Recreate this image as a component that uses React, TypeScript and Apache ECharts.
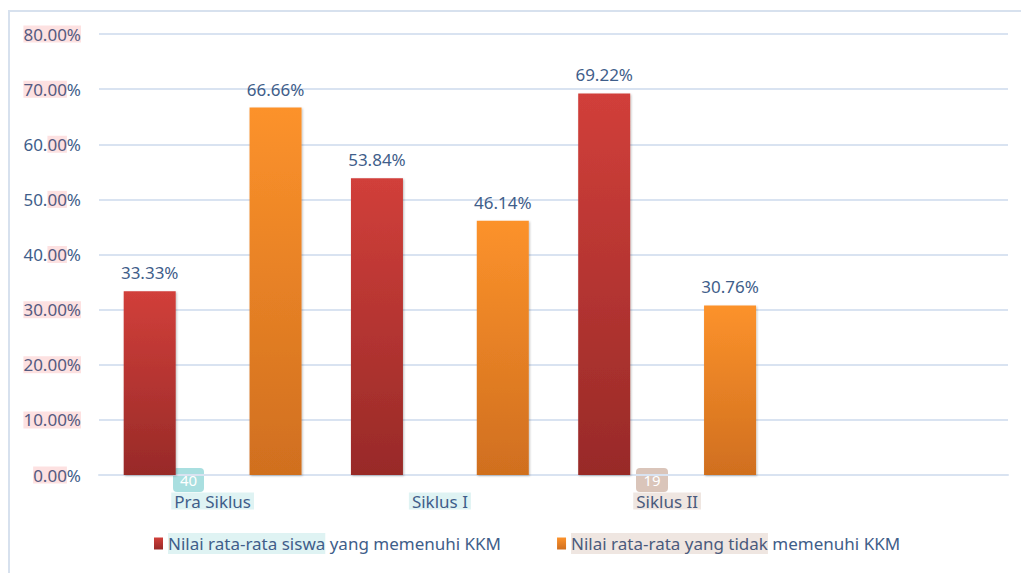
import React, { useEffect, useRef } from "react";
import * as echarts from "echarts";

const categories = ["Pra Siklus", "Siklus I", "Siklus II", ""];
const seriesNames = [
  "Nilai rata-rata siswa yang memenuhi KKM",
  "Nilai rata-rata yang tidak memenuhi KKM",
];
const memenuhi = [33.33, 53.84, 69.22, null];
const tidakMemenuhi = [66.66, 46.14, 30.76, null];
const yMin = 0;
const yMax = 80;
const yInterval = 10;

// highlight style of each y tick label (annotation highlights in the source)
const yHighlight: Record<number, string> = {
  80: "all",
  70: "num",
  60: "dec",
  50: "dec",
  40: "dec",
  30: "all",
  20: "all",
  10: "all",
  0: "num",
};

const FONT = "Noto Sans";
const TEXT = "#3f5e8a";
const FS = 17;

export default function App() {
  const ref = useRef<HTMLDivElement>(null);
  useEffect(() => {
    if (!ref.current) return;
    const chart = echarts.init(ref.current, undefined, { renderer: "svg" });
    const red = new echarts.graphic.LinearGradient(0, 0, 0, 1, [
      { offset: 0, color: "#d13f3a" },
      { offset: 1, color: "#982a28" },
    ]);
    const orange = new echarts.graphic.LinearGradient(0, 0, 0, 1, [
      { offset: 0, color: "#fc922b" },
      { offset: 1, color: "#d06f1f" },
    ]);
    const labelStyle = {
      show: true,
      position: "top",
      distance: 10,
      fontFamily: FONT,
      fontSize: FS,
      color: TEXT,
      formatter: (p: any) => Number(p.value).toFixed(2) + "%",
    };
    chart.setOption({
      animation: false,
      backgroundColor: "#ffffff",
      textStyle: { fontFamily: FONT },
      grid: { left: 99, right: 13, top: 34, bottom: 98, containLabel: false },
      xAxis: {
        type: "category",
        data: categories,
        axisLine: { show: true, lineStyle: { color: "#d9e3f1", width: 2 } },
        axisTick: { show: false },
        axisLabel: {
          margin: 18,
          interval: 0,
          formatter: (v: string) => {
            if (!v) return "";
            return (v === "Siklus II" ? "{b|" : "{a|") + v + "}";
          },
          rich: {
            a: {
              fontFamily: FONT,
              fontSize: FS,
              lineHeight: 16,
              color: TEXT,
              backgroundColor: "#dff3f3",
              padding: [0, 3, 0, 3],
            },
            b: {
              fontFamily: FONT,
              fontSize: FS,
              lineHeight: 16,
              color: "#4a5a7c",
              backgroundColor: "#efe6e1",
              padding: [0, 3, 0, 3],
            },
          },
        },
      },
      yAxis: {
        type: "value",
        min: yMin,
        max: yMax,
        interval: yInterval,
        axisLine: { show: false },
        axisTick: { show: false },
        splitLine: { lineStyle: { color: "#d9e3f1", width: 2 } },
        axisLabel: {
          margin: 18,
          formatter: (v: number) => {
            const s = v.toFixed(2);
            const kind = yHighlight[v];
            if (kind === "all") return "{h|" + s + "%}";
            if (kind === "num") return "{h|" + s + "}{n|%}";
            const [i, d] = s.split(".");
            return "{n|" + i + ".}{h|" + d + "}{n|%}";
          },
          rich: {
            n: { fontFamily: FONT, fontSize: FS, color: TEXT },
            h: {
              fontFamily: FONT,
              fontSize: FS,
              color: "#555a80",
              backgroundColor: "#fde1e1",
            },
          },
        },
      },
      legend: {
        bottom: 14,
        left: 149,
        itemGap: 56,
        icon: "rect",
        itemWidth: 9,
        itemHeight: 12,
        formatter: (name: string) => {
          if (name === seriesNames[0])
            return "{t|Nilai rata-rata siswa}{n| yang memenuhi KKM}";
          return "{r|Nilai rata-rata yang tidak}{n| memenuhi KKM}";
        },
        textStyle: {
          fontFamily: FONT,
          fontSize: FS,
          color: TEXT,
          rich: {
            n: { fontFamily: FONT, fontSize: FS, color: TEXT },
            t: {
              fontFamily: FONT,
              fontSize: FS,
              color: TEXT,
              backgroundColor: "#dff3f3",
              padding: [2, 0, 2, 0],
            },
            r: {
              fontFamily: FONT,
              fontSize: FS,
              color: "#4a5a7c",
              backgroundColor: "#efe6e1",
              padding: [2, 0, 2, 0],
            },
          },
        },
      },
      graphic: [
        {
          type: "rect",
          z: 0,
          silent: true,
          shape: { x: 9, y: 11, width: 1100, height: 700 },
          style: { fill: "none", stroke: "#d7e1ee", lineWidth: 2 },
        },
        {
          type: "group",
          z: 100,
          children: [
            {
              type: "rect",
              shape: { x: 173, y: 468, width: 31, height: 24, r: 4 },
              style: { fill: "#a9dfe0" },
            },
            {
              type: "text",
              style: {
                text: "40",
                x: 188.5,
                y: 480,
                fill: "#ffffff",
                align: "center",
                verticalAlign: "middle",
                font: "15px 'Noto Sans'",
              },
            },
            {
              type: "rect",
              shape: { x: 636, y: 468, width: 32, height: 24, r: 4 },
              style: { fill: "#dac5ba" },
            },
            {
              type: "text",
              style: {
                text: "19",
                x: 652,
                y: 480,
                fill: "#ffffff",
                align: "center",
                verticalAlign: "middle",
                font: "15px 'Noto Sans'",
              },
            },
          ],
        },
      ],
      series: [
        {
          name: seriesNames[0],
          type: "bar",
          data: memenuhi,
          barWidth: 52,
          barGap: "142%",
          itemStyle: {
            color: red,
            shadowColor: "rgba(0,0,0,0.25)",
            shadowBlur: 2,
            shadowOffsetX: 1,
            shadowOffsetY: 1,
          },
          label: labelStyle,
        },
        {
          name: seriesNames[1],
          type: "bar",
          data: tidakMemenuhi,
          barWidth: 52,
          itemStyle: {
            color: orange,
            shadowColor: "rgba(0,0,0,0.25)",
            shadowBlur: 2,
            shadowOffsetX: 1,
            shadowOffsetY: 1,
          },
          label: labelStyle,
        },
      ],
    });
    return () => chart.dispose();
  }, []);
  return (
    <div
      ref={ref}
      style={{
        position: "fixed",
        left: 0,
        top: 0,
        width: 1021,
        height: 573,
        background: "#fff",
      }}
    />
  );
}
